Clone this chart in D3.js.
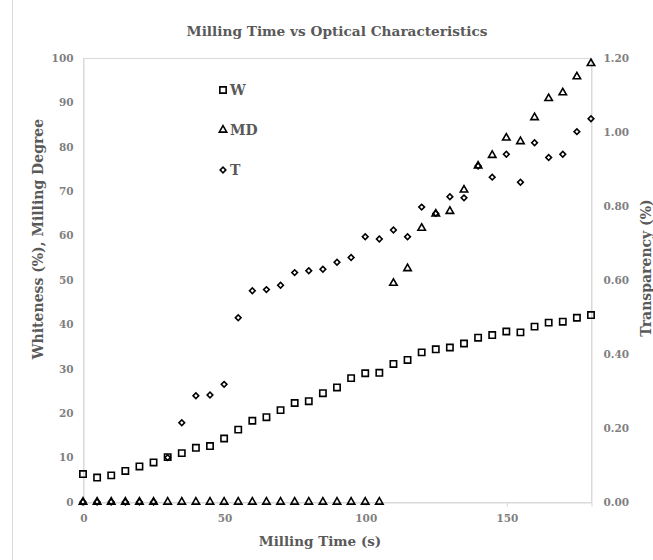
<!DOCTYPE html>
<html>
<head>
<meta charset="utf-8">
<script src="https://cdn.jsdelivr.net/npm/d3@7"></script>
<style>
  html, body { margin: 0; padding: 0; background: #fff; }
  svg { display: block; }
  text { font-family: "DejaVu Serif", Georgia, serif; font-weight: bold; }
</style>
</head>
<body>
<svg id="chart" width="653" height="560"></svg>
<script>
// ---- Data ----
const time = [0,5,10,15,20,25,30,35,40,45,50,55,60,65,70,75,80,85,90,95,100,105,110,115,120,125,130,135,140,145,150,155,160,165,170,175,180];
const whiteness = [6.3,5.5,6.0,7.0,8.0,8.9,10.1,11.0,12.2,12.6,14.3,16.3,18.3,19.1,20.7,22.3,22.7,24.5,25.8,27.9,29.0,29.1,31.1,32.0,33.7,34.4,34.8,35.7,37.0,37.6,38.4,38.2,39.5,40.4,40.6,41.5,42.1];
const millingDegree = [0,0,0,0,0,0,0,0,0,0,0,0,0,0,0,0,0,0,0,0,0,0,49.3,52.6,61.7,64.9,65.5,70.3,75.7,78.1,82.0,81.2,86.6,90.9,92.2,95.8,98.8];
const transparency = [0,0,0,0,0,0,0.12,0.214,0.287,0.289,0.318,0.498,0.571,0.574,0.586,0.620,0.625,0.629,0.648,0.661,0.717,0.711,0.735,0.717,0.797,0.780,0.825,0.822,0.908,0.878,0.940,0.864,0.971,0.931,0.940,1.001,1.036];
const xTicks = [0,50,100,150];
const yLeftTicks = [0,10,20,30,40,50,60,70,80,90,100];
const yRightTicks = [0,0.2,0.4,0.6,0.8,1.0,1.2];
const seriesNames = ["W","MD","T"];

// ---- Layout ----
const svg = d3.select("#chart");
const L = 83, R = 591, T = 58, B = 502;
const x = d3.scaleLinear().domain([0,180]).range([L,R]);
const yL = d3.scaleLinear().domain([0,100]).range([B,T]);
const yR = d3.scaleLinear().domain([0,1.2]).range([B,T]);

const axisGray = "#d9d9d9";
const tickGray = "#7f7f7f";
const titleGray = "#595959";

// outer chart border (left edge visible)
svg.append("rect").attr("x",12.5).attr("y",-2).attr("width",700).attr("height",600)
  .attr("fill","none").attr("stroke",axisGray).attr("stroke-width",1);

// plot frame
svg.append("rect").attr("x",L+0.5).attr("y",T+0.5).attr("width",R-L).attr("height",B-T)
  .attr("fill","none").attr("stroke",axisGray).attr("stroke-width",1);

const styleTicks = g => g.selectAll(".tick text").attr("fill",tickGray).attr("font-size",10.5)
  .attr("font-family","'DejaVu Serif', serif").attr("font-weight","bold");

// bottom axis
const xAxis = d3.axisBottom(x).tickValues(xTicks).tickSize(4).tickPadding(8).tickFormat(d3.format("d"));
const gx = svg.append("g").attr("transform",`translate(0.5,${B+0.5})`).call(xAxis);
gx.select(".domain").attr("stroke",axisGray);
gx.selectAll(".tick line").attr("stroke",axisGray);
styleTicks(gx);

// left axis
const yAxisL = d3.axisLeft(yL).tickValues(yLeftTicks).tickSize(0).tickPadding(10).tickFormat(d3.format("d"));
const gyl = svg.append("g").attr("transform",`translate(${L+0.5},0)`).call(yAxisL);
gyl.select(".domain").attr("stroke",axisGray);
styleTicks(gyl);

// right axis
const yAxisR = d3.axisRight(yR).tickValues(yRightTicks).tickSize(0).tickPadding(12).tickFormat(d3.format(".2f"));
const gyr = svg.append("g").attr("transform",`translate(${R+0.5},0)`).call(yAxisR);
gyr.select(".domain").attr("stroke",axisGray);
styleTicks(gyr);

// titles
svg.append("text").attr("x",337).attr("y",36).attr("text-anchor","middle")
  .attr("fill",titleGray).attr("font-size",13.7).text("Milling Time vs Optical Characteristics");
svg.append("text").attr("x",320).attr("y",546).attr("text-anchor","middle")
  .attr("fill",titleGray).attr("font-size",13.5).text("Milling Time (s)");
svg.append("text").attr("transform","translate(43,239) rotate(-90)").attr("text-anchor","middle")
  .attr("fill",titleGray).attr("font-size",14).text("Whiteness (%), Milling Degree");
svg.append("text").attr("transform","translate(651,268) rotate(-90)").attr("text-anchor","middle")
  .attr("fill",titleGray).attr("font-size",14).text("Transparency (%)");

// symbols
const symSquare = d3.symbol().type(d3.symbolSquare).size(40);
const symTri = d3.symbol().type(d3.symbolTriangle).size(24);
const symDiamond = d3.symbol().type(d3.symbolSquare).size(16);

const markStyle = sel => sel.attr("fill","none").attr("stroke","#000").attr("stroke-width",1.6);

const data = time.map((t,i)=>({t, w: whiteness[i], md: millingDegree[i], tr: transparency[i]}));

svg.append("g").selectAll("path").data(data).join("path")
  .attr("d", symSquare).attr("transform", d=>`translate(${x(d.t)},${yL(d.w)})`).call(markStyle);
svg.append("g").selectAll("path").data(data).join("path")
  .attr("d", symTri).attr("transform", d=>`translate(${x(d.t)},${yL(d.md)})`).call(markStyle);
svg.append("g").selectAll("path").data(data).join("path")
  .attr("d", symDiamond).attr("transform", d=>`translate(${x(d.t)},${yR(d.tr)}) rotate(45)`).call(markStyle);

// legend
const legendSyms = [symSquare, symTri, symDiamond];
const legendRot = [0,0,45];
const legendY = [90,130,170];
seriesNames.forEach((name,i)=>{
  svg.append("path").attr("d",legendSyms[i]).attr("transform",`translate(223,${legendY[i]}) rotate(${legendRot[i]})`).call(markStyle);
  svg.append("text").attr("x",230).attr("y",legendY[i]+5).attr("fill",titleGray).attr("font-size",14).text(name);
});
</script>
</body>
</html>
